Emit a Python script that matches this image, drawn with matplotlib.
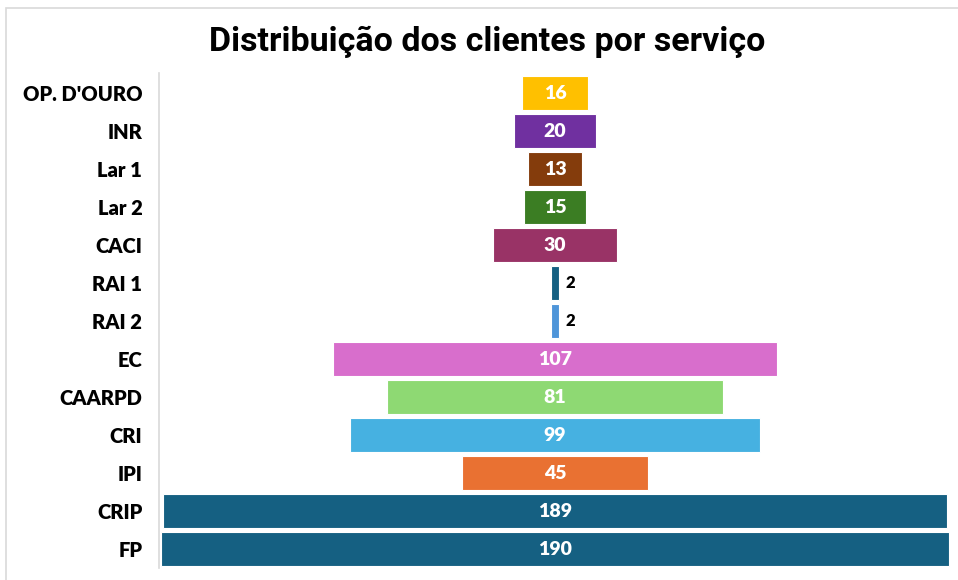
import matplotlib
matplotlib.use("Agg")
import matplotlib.pyplot as plt
from matplotlib.patches import Rectangle

# Dados
services = ["OP. D'OURO", "INR", "Lar 1", "Lar 2", "CACI", "RAI 1", "RAI 2",
            "EC", "CAARPD", "CRI", "IPI", "CRIP", "FP"]
clients = [16, 20, 13, 15, 30, 2, 2, 107, 81, 99, 45, 189, 190]
colors = ["#FFC000", "#7030A0", "#843C0C", "#3B7D23", "#993366", "#156082",
          "#4E95D9", "#D86ECC", "#8ED973", "#46B1E1", "#E97132", "#156082",
          "#156082"]

label_font = ["Lato", "DejaVu Sans"]

fig = plt.figure(figsize=(9.58, 5.8), dpi=100)
fig.patches.append(Rectangle((6 / 958, -0.1), 1.1, 1 - 8 / 580 + 0.1,
                             transform=fig.transFigure, fill=False,
                             edgecolor="#D9D9D9", linewidth=1.2))

ax = fig.add_axes([159 / 958, 12 / 580, 792 / 958, 495 / 580])

pos = list(range(len(services)))
# gráfico de funil: barras centradas em zero
lefts = [-v / 2 for v in clients]
ax.barh(pos, clients, left=lefts, height=0.9, color=colors,
        edgecolor="white", linewidth=0.8)

for y, v in zip(pos, clients):
    if v < 5:
        ax.text(v / 2 + 1.5, y, str(v), ha="left", va="center",
                fontsize=12, fontweight="heavy", color="black", family=label_font)
    else:
        ax.text(0, y, str(v), ha="center", va="center",
                fontsize=14, fontweight="heavy", color="white", family=label_font)

ax.set_xlim(-95.5, 95.5)
ax.set_ylim(12.5, -0.53)
ax.set_yticks(pos)
ax.set_yticklabels(services, fontsize=14.5, fontweight="heavy", family=label_font)
ax.set_xticks([])
ax.tick_params(axis="y", length=0, pad=12)
for side in ["top", "right", "bottom"]:
    ax.spines[side].set_visible(False)
ax.spines["left"].set_color("#D9D9D9")
ax.spines["left"].set_linewidth(1.2)

fig.text(487 / 958, 1 - 42 / 580, "Distribuição dos clientes por serviço",
         ha="center", va="center", fontsize=24.5, fontweight="bold",
         family=["Roboto", "DejaVu Sans"])

fig.savefig("out.png", dpi=100)
